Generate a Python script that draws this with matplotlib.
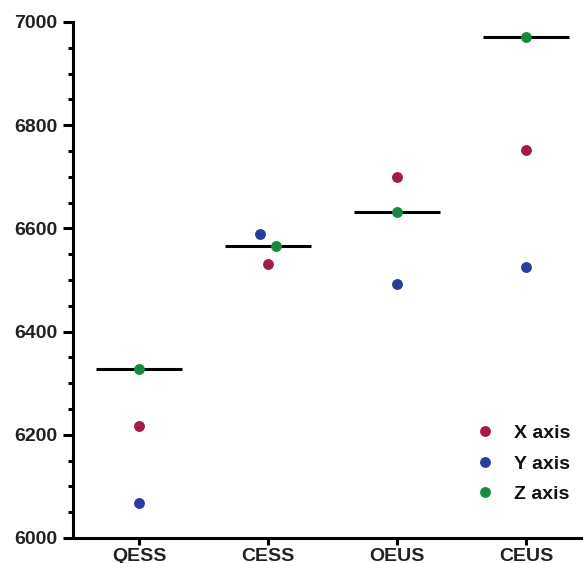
import matplotlib
matplotlib.use("Agg")
import matplotlib.pyplot as plt
from matplotlib.ticker import MultipleLocator

plt.rcParams['font.family'] = ['Liberation Sans', 'DejaVu Sans']
plt.rcParams['font.weight'] = 'bold'

categories = ["QESS", "CESS", "OEUS", "CEUS"]
x_vals = [6218, 6531, 6700, 6752]
y_vals = [6068, 6589, 6492, 6525]
z_vals = [6328, 6566, 6632, 6971]
# small horizontal scatter so dots don't overlap
x_jit = [0, 0, 0, 0]
y_jit = [0, -0.062, 0, 0]
z_jit = [0, 0.062, 0, 0]

colors = {"X axis": "#a51a4c", "Y axis": "#2d3c9c", "Z axis": "#17883f"}

fig = plt.figure(figsize=(5.83, 5.63), dpi=100)
ax = fig.add_axes([73 / 583, 1 - 538 / 563, 1 - 73 / 583, (538 - 22) / 563])

pos = list(range(len(categories)))

# line at the Z axis value
for i in pos:
    ax.plot([i - 0.335, i + 0.335], [z_vals[i], z_vals[i]], color="black", lw=2.2,
            solid_capstyle="butt", zorder=2, clip_on=False)

for name, vals, jit in [("X axis", x_vals, x_jit), ("Y axis", y_vals, y_jit), ("Z axis", z_vals, z_jit)]:
    ax.plot([p + j for p, j in zip(pos, jit)], vals, "o", color=colors[name], ms=6.8,
            label=name, zorder=3, clip_on=False)

ax.set_xlim(-0.512, 3.44)
ax.set_ylim(6000, 7000)
ax.set_xticks(pos)
ax.set_xticklabels(categories)
ax.yaxis.set_major_locator(MultipleLocator(200))
ax.yaxis.set_minor_locator(MultipleLocator(50))

for s in ["top", "right"]:
    ax.spines[s].set_visible(False)
for s in ["left", "bottom"]:
    ax.spines[s].set_linewidth(2.2)
ax.tick_params(axis="both", which="major", width=2.2, length=7, labelsize=14, colors="black")
ax.tick_params(axis="y", which="minor", width=2.2, length=3.5)
ax.tick_params(axis="y", which="major", pad=4)
ax.tick_params(axis="x", which="major", length=5, pad=2)
for lab in ax.get_xticklabels() + ax.get_yticklabels():
    lab.set_fontweight("bold")
    lab.set_color("#222222")

leg = ax.legend(loc="upper left", bbox_to_anchor=(0.792, 0.22), frameon=False,
                fontsize=14, handlelength=0.8, handletextpad=1.1, labelspacing=0.66,
                borderaxespad=0, borderpad=0)
for t in leg.get_texts():
    t.set_fontweight("bold")
    t.set_color("#111111")

fig.savefig("out.png", dpi=100)
